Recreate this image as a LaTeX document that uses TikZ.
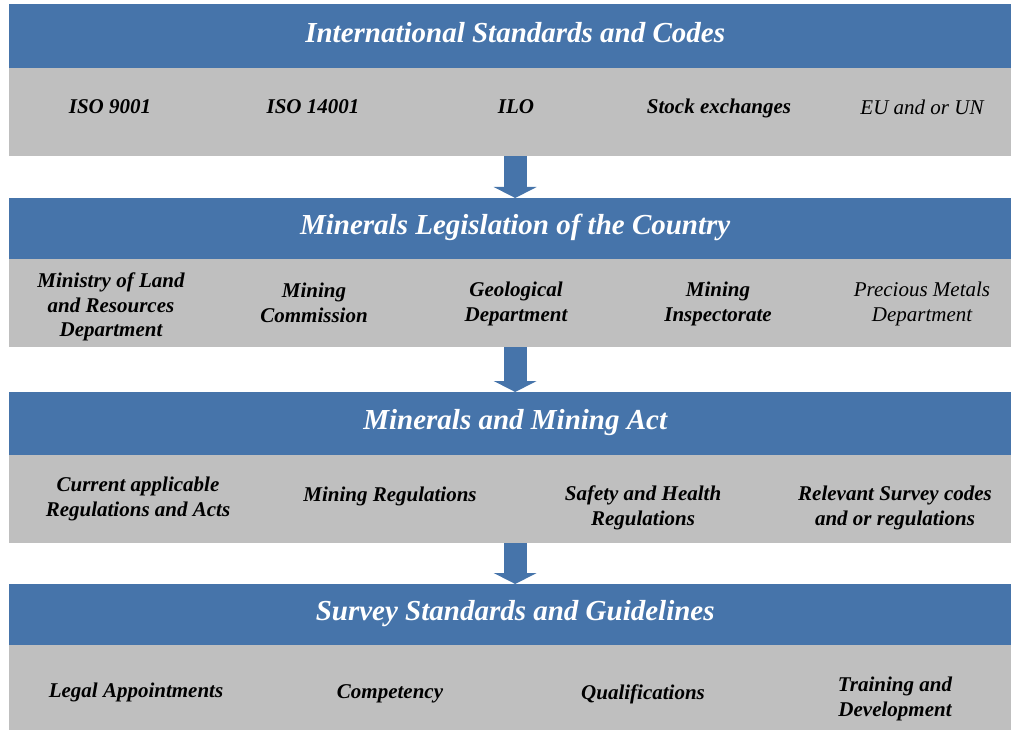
\documentclass[tikz,border=0pt]{standalone}
\usepackage{fontspec}
\setmainfont{Liberation Serif}
\usetikzlibrary{arrows.meta}
\definecolor{bandblue}{RGB}{70,116,170}
\definecolor{bandgray}{RGB}{191,191,191}
\tikzset{
  stagehead/.style={fill=bandblue, text=white, minimum width=1012pt, inner sep=0pt,
    anchor=north west, text height=20pt, text depth=8pt,
    font=\fontsize{29}{34}\selectfont\bfseries\itshape},
  stageband/.style={fill=bandgray, minimum width=1012pt, inner sep=0pt, anchor=north west},
  entry/.style={align=center, inner sep=0pt, font=\fontsize{21}{24.5}\selectfont\bfseries\itshape},
  entrylight/.style={entry, font=\fontsize{21}{24.5}\selectfont\itshape},
  stagearrow/.style={color=bandblue, line width=23pt,
    -{Triangle[width=43pt,length=11pt,line width'=0pt]}}
}
\begin{document}
\begin{tikzpicture}[x=1pt,y=-1pt]
  \useasboundingbox (0,0) rectangle (1011,730);

  \node[stagehead, minimum height=64pt] (h1) at (9,4) {International Standards and Codes};
  \node[stageband, minimum height=88pt] (g1) at (9,68) {};
  \node[stagehead, minimum height=61pt] (h2) at (9,198) {Minerals Legislation of the Country};
  \node[stageband, minimum height=88pt] (g2) at (9,259) {};
  \node[stagehead, minimum height=63pt] (h3) at (9,392) {Minerals and Mining Act};
  \node[stageband, minimum height=88pt] (g3) at (9,455) {};
  \node[stagehead, minimum height=61pt] (h4) at (9,584) {Survey Standards and Guidelines};
  \node[stageband, minimum height=88pt] (g4) at (9,645) {};

  \node[entry] (iso9001) at (110,107) {ISO 9001};
  \node[entry] (iso14001) at (313,107) {ISO 14001};
  \node[entry] (ilo) at (516,107) {ILO};
  \node[entry] (stock) at (719,108) {Stock exchanges};
  \node[entrylight] (euun) at (922,107) {EU and or UN};

  \node[entry] (ministry) at (111,307) {Ministry of Land\\and Resources\\Department};
  \node[entry] (commission) at (314,303) {Mining\\Commission};
  \node[entry] (geology) at (516,304) {Geological\\Department};
  \node[entry] (inspectorate) at (718,304) {Mining\\Inspectorate};
  \node[entrylight] (precious) at (922,304) {Precious Metals\\Department};

  \node[entry] (current) at (138,499) {Current applicable\\Regulations and Acts};
  \node[entry] (regs) at (390,496) {Mining Regulations};
  \node[entry] (safety) at (643,508) {Safety and Health\\Regulations};
  \node[entry] (survey) at (895,508) {Relevant Survey codes\\and or regulations};

  \node[entry] (appoint) at (136,692) {Legal Appointments};
  \node[entry] (compet) at (390,694) {Competency};
  \node[entry] (qualif) at (643,694) {Qualifications};
  \node[entry] (training) at (895,699) {Training and\\Development};

  \path[stagearrow] (g1) edge (h2);
  \path[stagearrow] (g2) edge (h3);
  \path[stagearrow] (g3) edge (h4);
\end{tikzpicture}
\end{document}
